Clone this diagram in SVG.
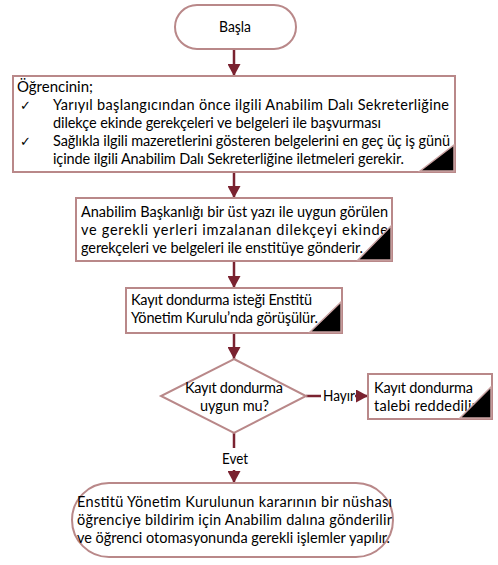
<svg xmlns="http://www.w3.org/2000/svg" width="498" height="565" viewBox="0 0 498 565">
<defs>
<style>
.n{fill:#fff;stroke:#b98889;stroke-width:2}
.c{stroke:#7a2230;stroke-width:2.5;fill:none}
.t{font-family:Lato,"Liberation Sans","DejaVu Sans",sans-serif;font-size:14.5px;fill:#000}
.m{text-anchor:middle}
.k{font-family:"DejaVu Sans",sans-serif;font-size:13px}
.f{fill:#000;stroke:#c9a2a2;stroke-width:1.5}
</style>
<marker id="ah" markerWidth="12" markerHeight="13" refX="12" refY="6.5" orient="auto" markerUnits="userSpaceOnUse">
<path d="M0,0 L12,6.5 L0,13 Z" fill="#7a2230"/>
</marker>
</defs>
<rect width="498" height="565" fill="#fff"/>

<g id="connectors">
<line class="c" x1="234" y1="49" x2="234" y2="76" marker-end="url(#ah)"/>
<line class="c" x1="234" y1="172" x2="234" y2="198" marker-end="url(#ah)"/>
<line class="c" x1="234" y1="261" x2="234" y2="288" marker-end="url(#ah)"/>
<line class="c" x1="234" y1="333" x2="234" y2="359" marker-end="url(#ah)"/>
<line class="c" x1="306" y1="396" x2="321" y2="396"/>
<line class="c" x1="355" y1="396" x2="368" y2="396" marker-end="url(#ah)"/>
<text class="t" x="323" y="401" textLength="32" lengthAdjust="spacingAndGlyphs">Hayır</text>
<line class="c" x1="234" y1="433" x2="234" y2="448"/>
<line class="c" x1="234" y1="470" x2="234" y2="483" marker-end="url(#ah)"/>
<text class="t" x="222" y="464" textLength="26" lengthAdjust="spacingAndGlyphs">Evet</text>
</g>

<g id="start">
<rect class="n" x="175" y="5" width="121" height="44" rx="22"/>
<text class="t" x="219" y="32" textLength="32" lengthAdjust="spacingAndGlyphs">Başla</text>
</g>

<g id="step1">
<rect class="n" x="13" y="76" width="442" height="96"/>
<text class="t" x="17" y="92" textLength="76" lengthAdjust="spacingAndGlyphs">Öğrencinin;</text>
<text class="t k" x="20" y="110">✓</text>
<text class="t" x="53" y="110" textLength="396" lengthAdjust="spacing">Yarıyıl başlangıcından önce ilgili Anabilim Dalı Sekreterliğine</text>
<text class="t" x="53" y="128" textLength="328" lengthAdjust="spacing">dilekçe ekinde gerekçeleri ve belgeleri ile başvurması</text>
<text class="t k" x="20" y="146">✓</text>
<text class="t" x="53" y="146" textLength="397" lengthAdjust="spacing">Sağlıkla ilgili mazeretlerini gösteren belgelerini en geç üç iş günü</text>
<text class="t" x="53" y="164" textLength="351" lengthAdjust="spacing">içinde ilgili Anabilim Dalı Sekreterliğine iletmeleri gerekir.</text>
<polygon class="f" points="420,171 454,145 454,171"/>
</g>

<g id="step2">
<rect class="n" x="76" y="198" width="316" height="63"/>
<text class="t" x="81" y="217" textLength="307" lengthAdjust="spacing">Anabilim Başkanlığı bir üst yazı ile uygun görülen</text>
<text class="t" x="81" y="235" textLength="307" lengthAdjust="spacing">ve gerekli yerleri imzalanan dilekçeyi ekinde</text>
<text class="t" x="81" y="253" textLength="282" lengthAdjust="spacing">gerekçeleri ve belgeleri ile  enstitüye gönderir.</text>
<polygon class="f" points="358,260 391,226 391,260"/>
</g>

<g id="step3">
<rect class="n" x="126" y="288" width="216" height="45"/>
<text class="t" x="131" y="305" textLength="181" lengthAdjust="spacing">Kayıt dondurma isteği Enstitü</text>
<text class="t" x="131" y="323" textLength="187" lengthAdjust="spacing">Yönetim Kurulu’nda görüşülür.</text>
<polygon class="f" points="310,332 341,302 341,332"/>
</g>

<g id="decision">
<polygon class="n" points="234,359 306,396 234,433 161,396"/>
<text class="t" x="185" y="393" textLength="98" lengthAdjust="spacing">Kayıt dondurma</text>
<text class="t" x="200" y="411" textLength="69" lengthAdjust="spacing">uygun mu?</text>
</g>

<g id="reject">
<rect class="n" x="368" y="374" width="124" height="45"/>
<text class="t" x="374" y="393" textLength="99" lengthAdjust="spacing">Kayıt dondurma</text>
<text class="t" x="374" y="411" textLength="103" lengthAdjust="spacing">talebi reddedilir</text>
<polygon class="f" points="460,418 491,387 491,418"/>
</g>

<g id="end">
<rect class="n" x="72" y="483" width="321" height="74" rx="37"/>
<text class="t" x="77" y="507" textLength="315" lengthAdjust="spacing">Enstitü Yönetim Kurulunun kararının bir nüshası</text>
<text class="t" x="77" y="525" textLength="315" lengthAdjust="spacing">öğrenciye bildirim için Anabilim dalına gönderilir</text>
<text class="t" x="77" y="543" textLength="313" lengthAdjust="spacing">ve öğrenci otomasyonunda gerekli işlemler yapılır.</text>
</g>
</svg>
